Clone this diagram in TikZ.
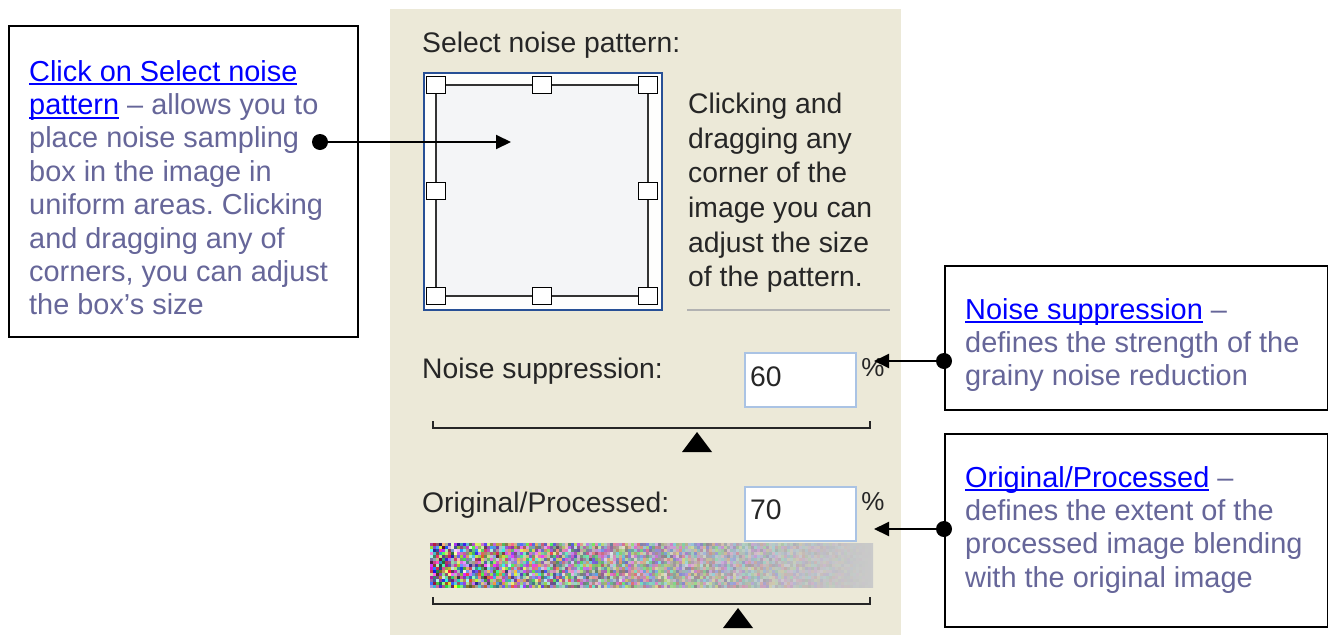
\documentclass[tikz,border=0pt]{standalone}
\usepackage{fontspec}
\setmainfont{Liberation Sans}
\usetikzlibrary{arrows.meta}
\definecolor{linkblue}{RGB}{0,0,255}
\definecolor{notegrey}{RGB}{102,102,153}
\definecolor{panelbg}{RGB}{236,233,216}
\definecolor{frameblue}{RGB}{40,80,150}
\definecolor{fieldblue}{RGB}{170,195,228}
\definecolor{patfill}{RGB}{244,245,247}
\newcommand\lnk[1]{\textcolor{linkblue}{\setbox0\hbox{#1}\rlap{\rule[-4pt]{\wd0}{2pt}}\box0}}
\frenchspacing
\begin{document}
\begin{tikzpicture}[x=1pt, y=-1pt,
	note/.style={anchor=north west, inner sep=0, align=left, text=notegrey, font=\fontsize{28.9pt}{33.4pt}\selectfont},
	callbox/.style={draw, line width=2pt, fill=white, anchor=north west, inner sep=0},
	ui/.style={inner sep=0, text=black!85, font=\fontsize{28.3pt}{34.6pt}\selectfont},
	field/.style={draw=fieldblue, line width=1.5pt, fill=white, anchor=north west, minimum width=111pt, minimum height=54pt},
	pct/.style={inner sep=0, text=black!85, font=\fontsize{26pt}{26pt}\selectfont},
	lead/.style={line width=2pt, -{Triangle[length=15pt,width=14pt]}},
	handle/.style={draw, line width=1.5pt, fill=white, minimum width=19pt, minimum height=17pt, inner sep=0}]
	\useasboundingbox (0,0) rectangle (1328,635);
	\fill[white] (0,0) rectangle (1328,635);
	% dialog panel
	\fill[panelbg] (390,9) rectangle (901,635);
	\node[ui, anchor=base west] (patlabel) at (422,52) {Select noise pattern:};
	\draw[frameblue, line width=2pt, fill=white!96!panelbg] (424,73) rectangle (662,310);
	\draw[black!80, line width=1.5pt, fill=patfill] (436,85) rectangle (648,296);
	\foreach \hx/\hy in {436/85, 542/85, 648/85, 436/191, 648/191, 436/296, 542/296, 648/296}
		\node[handle] (hnd-\hx-\hy) at (\hx,\hy) {};
	\node[ui, anchor=north west, align=left] (hinttext) at (688,93) {Clicking and\\ dragging any\\ corner of the\\ image you can\\ adjust the size\\ of the pattern.};
	\draw[gray!60, line width=1.5pt] (687,310) -- (890,310);
	% noise suppression
	\node[ui, anchor=base west] (nslabel) at (422,378) {Noise suppression:};
	\node[field] (nsfield) at (744,352) {};
	\node[ui, anchor=base west] (nsvalue) at (750,386) {60};
	\node[pct] (nspct) at (873,368) {\%};
	\draw[line width=2.5pt, black!85] (433,421) -- (433,428) -- (870,428) -- (870,421);
	\fill (682,452) -- (712,452) -- (697,432) -- cycle;
	% original / processed
	\node[ui, anchor=base west] (oplabel) at (422,512) {Original/Processed:};
	\node[field] (opfield) at (744,486) {};
	\node[ui, anchor=base west] (opvalue) at (750,519) {70};
	\node[pct] (oppct) at (873,502) {\%};
	\pgfmathsetseed{42}
	\begin{scope}
		\clip (430,543) rectangle (873,587);
		\foreach \i in {0,...,147}{
			\foreach \j in {0,...,14}{
				\pgfmathsetmacro\nzt{\i/147}
				\pgfmathsetmacro\nza{125*(1-\nzt)*(1-0.3*\nzt)}
				\pgfmathsetmacro\nzm{140+62*\nzt}
				\pgfmathtruncatemacro\nzr{max(0,min(255,\nzm+\nza*rand))}
				\pgfmathtruncatemacro\nzg{max(0,min(255,\nzm-4*(1-\nzt)+\nza*rand))}
				\pgfmathtruncatemacro\nzb{max(0,min(255,\nzm+6*(1-\nzt)+\nza*rand))}
				\definecolor{nz}{RGB}{\nzr,\nzg,\nzb}
				\fill[nz] (430+3*\i,543+3*\j) rectangle ++(3,3);
			}
		}
	\end{scope}
	\draw[line width=2.5pt, black!85] (433,597) -- (433,604) -- (870,604) -- (870,597);
	\fill (723,628) -- (753,628) -- (738,608) -- cycle;
	% callouts
	\node[callbox, minimum width=349pt, minimum height=311pt] (selbox) at (8,25) {};
	\node[note] (seltext) at (29,60) {\lnk{Click on Select noise}\\ \lnk{pattern} – allows you to\\ place noise sampling\\ box in the image in\\ uniform areas. Clicking\\ and dragging any of\\ corners, you can adjust\\ the box’s size};
	\node[callbox, minimum width=383pt, minimum height=144pt] (nsbox) at (944,265) {};
	\node[note] (nstext) at (965,298) {\lnk{Noise suppression} –\\ defines the strength of the\\ grainy noise reduction};
	\node[callbox, minimum width=383pt, minimum height=193pt] (opbox) at (944,433) {};
	\node[note] (optext) at (965,466) {\lnk{Original/Processed} –\\ defines the extent of the\\ processed image blending\\ with the original image};
	% leaders
	\coordinate (seldot) at (320,142);
	\coordinate (seltip) at (511,142);
	\coordinate (nsdot) at (944,361);
	\coordinate (nstip) at (874,361);
	\coordinate (opdot) at (944,529);
	\coordinate (optip) at (874,529);
	\foreach \c in {seldot, nsdot, opdot}
		\fill (\c) circle[radius=8pt];
	\draw[lead] (seldot) -- (seltip);
	\draw[lead] (nsdot) -- (nstip);
	\draw[lead] (opdot) -- (optip);
\end{tikzpicture}
\end{document}
